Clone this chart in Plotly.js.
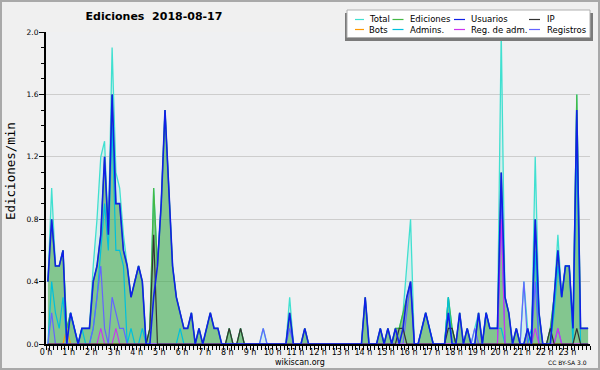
<!DOCTYPE html>
<html><head><meta charset="utf-8">
<script src="https://cdn.plot.ly/plotly-3.0.1.min.js"></script>
<style>html,body{margin:0;padding:0;background:#f0f0f0;}#chart{width:600px;height:370px;}</style>
</head><body><div id="chart"></div>
<script>
const hourTicks = [0,1,2,3,4,5,6,7,8,9,10,11,12,13,14,15,16,17,18,19,20,21,22,23];
const hourLabels = ['0 h','1 h','2 h','3 h','4 h','5 h','6 h','7 h','8 h','9 h','10 h','11 h','12 h','13 h','14 h','15 h','16 h','17 h','18 h','19 h','20 h','21 h','22 h','23 h'];
const yTicks = [0,0.4,0.8,1.2,1.6,2.0];
const yLabels = ['0.0','0.4','0.8','1.2','1.6','2.0'];
const seriesNames = ['Total','Ediciones','Usuarios','IP','Bots','Admins.','Reg. de adm.','Registros'];

// one value per 10-minute slot, 6 per hour
const total = [
0.4,1.0,0.5,0.5,0.6,0.1,
0.2,0.1,0,0.1,0.1,0.1,
0.5,0.8,1.2,1.3,0.7,1.9,
1.1,1.0,0.7,0.5,0.3,0.4,
0.5,0.4,0,0.1,1.0,0.5,
0.9,1.5,1.0,0.5,0.3,0.2,
0.1,0.1,0.2,0,0.1,0,
0.1,0.2,0.1,0.1,0,0,
0.1,0,0,0.1,0,0,
0,0,0,0.1,0,0,
0,0,0,0,0.3,0,
0,0,0.1,0,0,0,
0,0,0,0,0,0,
0,0,0,0,0,0,
0.3,0,0,0,0.1,0,
0.1,0,0.1,0.1,0.2,0.5,
0.8,0,0,0.1,0.2,0.1,
0,0,0,0,0.3,0.1,
0,0.2,0,0.1,0,0.1,
0.2,0,0.2,0.1,0.1,0.1,
2.0,0.3,0.2,0,0.1,0,
0.4,0.1,0,1.2,0.2,0,
0,0.1,0.3,0.7,0.3,0.5,
0.5,0.1,1.6,0.1,0.1,0.1
];
const ediciones = [
0.4,0.8,0.5,0.5,0.6,0.1,
0.2,0.1,0,0.1,0.1,0.1,
0.4,0.5,0.7,1.2,0.7,1.6,
0.9,0.9,0.6,0.5,0.3,0.4,
0.5,0.4,0,0.1,1.0,0.5,
0.9,1.5,1.0,0.5,0.3,0.2,
0.1,0.1,0.2,0,0.1,0,
0.1,0.2,0.1,0.1,0,0,
0.1,0,0,0.1,0,0,
0,0,0,0,0,0,
0,0,0,0,0.2,0,
0,0,0.1,0,0,0,
0,0,0,0,0,0,
0,0,0,0,0,0,
0.3,0,0,0,0.1,0,
0.1,0,0.1,0.1,0.2,0.3,
0.4,0,0,0.1,0.2,0.1,
0,0,0,0,0.3,0.1,
0,0.2,0,0.1,0,0,
0.2,0,0.2,0.1,0.1,0.1,
1.1,0.3,0.2,0,0.1,0,
0,0.1,0,0.8,0.2,0,
0,0.1,0.3,0.6,0.3,0.5,
0.5,0.1,1.6,0.1,0.1,0.1
];
const usuarios = [
0.4,0.8,0.5,0.5,0.6,0,
0.2,0.1,0,0.1,0.1,0.1,
0.4,0.5,0.7,1.2,0.7,1.6,
0.9,0.9,0.6,0.5,0.3,0.4,
0.5,0.4,0,0,0.3,0.5,
0.9,1.5,1.0,0.5,0.3,0.2,
0.1,0.1,0.2,0,0.1,0,
0.1,0.2,0.1,0.1,0,0,
0,0,0,0,0,0,
0,0,0,0,0,0,
0,0,0,0,0.2,0,
0,0,0.1,0,0,0,
0,0,0,0,0,0,
0,0,0,0,0,0,
0.3,0,0,0,0.1,0,
0.1,0,0.1,0,0.1,0.3,
0.4,0,0,0.1,0.2,0.1,
0,0,0,0,0.2,0,
0,0.2,0,0.1,0,0,
0.2,0,0.2,0.1,0.1,0.1,
1.1,0.3,0.2,0,0.1,0,
0,0.1,0,0.8,0.2,0,
0,0,0.3,0.6,0.3,0.5,
0.5,0.1,1.5,0.1,0.1,0.1
];
const ip = [
0,0,0,0,0,0,
0,0,0,0,0,0,
0,0,0,0,0,0,
0,0,0,0,0,0,
0,0,0,0.1,0.7,0,
0,0,0,0,0,0,
0,0,0,0,0,0,
0,0,0,0,0,0,
0.1,0,0,0.1,0,0,
0,0,0,0,0,0,
0,0,0,0,0,0,
0,0,0,0,0,0,
0,0,0,0,0,0,
0,0,0,0,0,0,
0,0,0,0,0,0,
0,0,0,0.1,0.1,0,
0,0,0,0,0,0,
0,0,0,0,0.1,0.1,
0,0,0,0,0,0,
0,0,0,0,0,0,
0,0,0,0,0,0,
0,0,0,0,0,0,
0,0.1,0,0,0,0,
0,0,0.1,0,0,0
];
const bots = [
0,0,0,0,0,0.1,
0,0,0,0,0,0,
0,0,0,0,0,0,
0,0,0,0,0,0,
0,0,0,0,0,0,
0,0,0,0,0,0,
0,0,0,0,0,0,
0,0,0,0,0,0,
0,0,0,0,0,0,
0,0,0,0,0,0,
0,0,0,0,0,0,
0,0,0,0,0,0,
0,0,0,0,0,0,
0,0,0,0,0,0,
0,0,0,0,0,0,
0,0,0,0,0,0,
0,0,0,0,0,0,
0,0,0,0,0,0,
0,0,0,0,0,0,
0,0,0,0,0,0,
0,0,0,0,0,0,
0,0,0,0,0,0,
0,0,0,0,0,0,
0,0,0,0,0,0
];
const admins = [
0,0.4,0.2,0.1,0.3,0,
0.2,0.1,0,0.1,0,0,
0.1,0.3,0.6,0.9,0.6,1.4,
0.6,0.6,0.5,0,0.1,0,
0,0.1,0,0,0,0,
0,0,0,0,0,0.1,
0,0,0,0,0,0,
0,0,0,0,0,0,
0,0,0,0,0,0,
0,0,0,0,0,0,
0,0,0,0,0,0,
0,0,0,0,0,0,
0,0,0,0,0,0,
0,0,0,0,0,0,
0,0,0,0,0,0,
0,0,0,0,0,0,
0,0,0,0.1,0.2,0.1,
0,0,0,0,0.3,0,
0,0,0,0,0,0,
0,0,0.2,0.1,0.1,0.1,
0.1,0,0,0,0,0,
0,0,0.1,0.6,0,0,
0,0,0.2,0.5,0.3,0.5,
0.5,0,1.3,0,0,0
];
const regAdm = [
0,0,0,0,0,0,
0,0,0,0,0,0,
0,0,0.1,0,0,0,
0.1,0,0,0,0,0,
0,0,0,0,0,0,
0,0,0,0,0,0,
0,0,0,0,0,0,
0,0,0,0,0,0,
0,0,0,0,0,0,
0,0,0,0,0,0,
0,0,0,0,0,0,
0,0,0,0,0,0,
0,0,0,0,0,0,
0,0,0,0,0,0,
0,0,0,0,0,0,
0,0,0,0,0,0,
0,0,0,0,0,0,
0,0,0,0,0,0,
0,0,0,0,0,0,
0,0,0,0,0,0,
0.8,0,0,0,0,0,
0,0,0,0.1,0,0,
0,0,0,0.1,0,0,
0,0,0,0,0,0
];
const registros = [
0,0.2,0,0,0,0,
0,0,0,0,0,0,
0.1,0.3,0.5,0.1,0,0.3,
0.2,0.1,0.1,0,0,0,
0,0,0,0,0,0,
0,0,0,0,0,0,
0,0,0,0,0,0,
0,0,0,0,0,0,
0,0,0,0,0,0,
0,0,0,0.1,0,0,
0,0,0,0,0.1,0,
0,0,0,0,0,0,
0,0,0,0,0,0,
0,0,0,0,0,0,
0,0,0,0,0,0,
0,0,0,0,0,0.2,
0.4,0,0,0,0,0,
0,0,0,0,0,0,
0,0,0,0,0,0.1,
0,0,0,0,0,0,
0.9,0,0,0,0,0,
0.4,0,0,0.4,0,0,
0,0,0,0.1,0,0,
0,0,0,0,0,0
];

// slot centres in hours (each slot is 10 minutes, plotted at its middle)
const slotHours = total.map((_, i) => (i * 10 + 5) / 60);

const colors = {
  'Total': '#40e0d0', 'Ediciones': '#44b844', 'Usuarios': '#1020e6', 'IP': '#333333',
  'Bots': '#ff9900', 'Admins.': '#00c0dc', 'Reg. de adm.': '#cc33ee', 'Registros': '#6464ff'
};
const seriesData = {
  'Total': total, 'Ediciones': ediciones, 'Usuarios': usuarios, 'IP': ip,
  'Bots': bots, 'Admins.': admins, 'Reg. de adm.': regAdm, 'Registros': registros
};
const drawOrder = ['Total','Ediciones','Bots','Admins.','Registros','Reg. de adm.','IP','Usuarios'];
const widths = {'Total':1.3,'Ediciones':1.2,'Usuarios':1.6,'IP':1.2,'Bots':1.1,'Admins.':1.2,'Reg. de adm.':1.1,'Registros':1.2};

const traces = drawOrder.map(name => {
  const t = {
    type: 'scatter', mode: 'lines', name: name,
    x: slotHours, y: seriesData[name],
    line: {color: colors[name], width: widths[name]},
    showlegend: false, hoverinfo: 'skip'
  };
  if (name === 'Total') { t.fill = 'tozeroy'; t.fillcolor = 'rgba(64,224,208,0.15)'; }
  if (name === 'Ediciones') { t.fill = 'tozeroy'; t.fillcolor = 'rgba(50,160,50,0.5)'; }
  return t;
});

// pixel -> paper helpers (plot area: x 46..590, y 32..344)
const L = 46, R = 10, T = 32, B = 26, W = 600, H = 370;
const pw = W - L - R, ph = H - T - B;
const px = v => (v - L) / pw;
const py = v => (H - B - v) / ph;

const shapes = [
  {type:'rect', xref:'paper', yref:'paper', x0:px(1), x1:px(599), y0:py(1), y1:py(369),
   line:{color:'#a9a9a9', width:2}, fillcolor:'rgba(0,0,0,0)', layer:'below'},
  {type:'rect', xref:'paper', yref:'paper', x0:px(345), x1:px(593), y0:py(13), y1:py(41),
   line:{width:0}, fillcolor:'#7a7a7a', layer:'above'},
  {type:'rect', xref:'paper', yref:'paper', x0:px(347), x1:px(590), y0:py(10), y1:py(37.5),
   line:{color:'#b0b0b0', width:1}, fillcolor:'#ffffff', layer:'above'}
];
const annotations = [];
const legendCols = [[355, 364, 366.5], [392.5, 403.5, 407.5], [454, 465, 468.5], [529, 540, 544.5]];
const legendRows = [19.5, 29.5];
seriesNames.forEach((name, k) => {
  const row = Math.floor(k / 4), col = k % 4;
  const c = legendCols[col], yy = legendRows[row];
  shapes.push({type:'line', xref:'paper', yref:'paper', x0:px(c[0]), x1:px(c[1]), y0:py(yy), y1:py(yy),
    line:{color:colors[name], width:1.2}, layer:'above'});
  annotations.push({xref:'paper', yref:'paper', x:px(c[2]), y:py(yy), xanchor:'left', yanchor:'middle',
    text:name, showarrow:false, font:{family:'DejaVu Sans', size:8.5, color:'#000'}});
});
annotations.push({xref:'paper', yref:'paper', x:px(10), y:py(171), textangle:-90, text:'Ediciones/min',
  showarrow:false, xanchor:'center', yanchor:'middle', font:{family:'DejaVu Sans Mono', size:12.5, color:'#000'}});
annotations.push({xref:'paper', yref:'paper', x:px(300), y:py(362), text:'wikiscan.org', showarrow:false,
  xanchor:'center', yanchor:'middle', font:{family:'DejaVu Sans', size:8, color:'#000'}});
annotations.push({xref:'paper', yref:'paper', x:px(589), y:py(362), text:'CC BY-SA 3.0', showarrow:false,
  xanchor:'right', yanchor:'middle', font:{family:'DejaVu Sans', size:6, color:'#000'}});

const layout = {
  width: W, height: H,
  margin: {l:L, r:R, t:T, b:B, pad:0},
  paper_bgcolor: '#f0f0f0', plot_bgcolor: '#eff0f2',
  title: {text: '<b>Ediciones\u00a0\u00a02018-08-17</b>', xref:'container', yref:'container',
    x: 154/600, xanchor:'center', y: 1 - 16/370, yanchor:'middle',
    font: {family:'DejaVu Sans', size:11, color:'#000'}},
  xaxis: {
    range:[0,24], tickmode:'array', tickvals:hourTicks, ticktext:hourLabels,
    ticks:'outside', ticklen:4, tickwidth:1, tickcolor:'#000', ticklabelstandoff:-5,
    minor:{tickmode:'linear', tick0:0, dtick:1/6, ticks:'outside', ticklen:4, tickwidth:1, tickcolor:'#000', showgrid:false},
    showline:true, linecolor:'#000', linewidth:2, showgrid:false, zeroline:false,
    tickfont:{family:'DejaVu Sans', size:8, color:'#000'}, fixedrange:true
  },
  yaxis: {
    range:[0,2], tickmode:'array', tickvals:yTicks, ticktext:yLabels,
    ticks:'outside', ticklen:5, tickwidth:1, tickcolor:'#000', ticklabelstandoff:-1,
    minor:{tickmode:'linear', tick0:0, dtick:0.1, ticks:'outside', ticklen:3, tickwidth:1, tickcolor:'#000', showgrid:false},
    showline:true, linecolor:'#000', linewidth:2, showgrid:true, gridcolor:'#cdcdcd', gridwidth:1, zeroline:false,
    tickfont:{family:'DejaVu Sans', size:7.5, color:'#000'}, fixedrange:true
  },
  shapes: shapes,
  annotations: annotations,
  showlegend: false
};

Plotly.newPlot('chart', traces, layout, {staticPlot:true, displayModeBar:false});
</script>
</body></html>
